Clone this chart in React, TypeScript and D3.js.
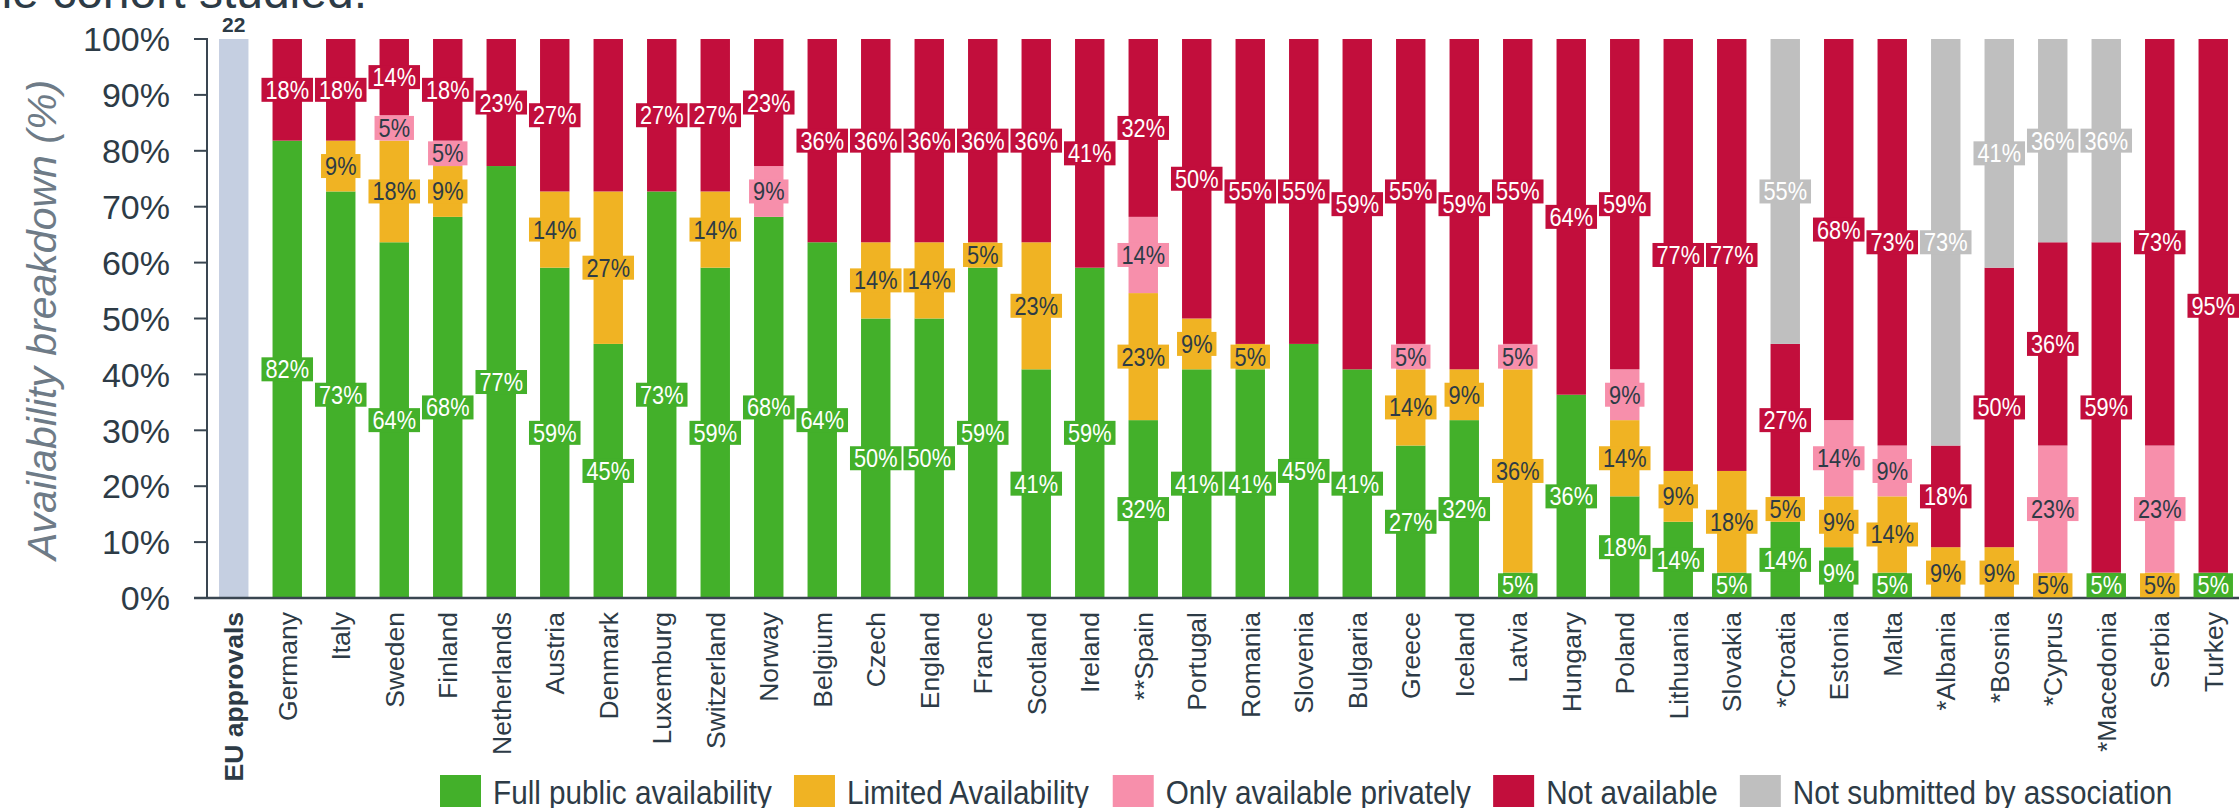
import * as d3 from "d3"
import React from "react"

// counts out of the 22 EU approvals
const euApprovals = 22
const countries = ["Germany", "Italy", "Sweden", "Finland", "Netherlands", "Austria", "Denmark", "Luxemburg", "Switzerland", "Norway", "Belgium", "Czech", "England", "France", "Scotland", "Ireland", "**Spain", "Portugal", "Romania", "Slovenia", "Bulgaria", "Greece", "Iceland", "Latvia", "Hungary", "Poland", "Lithuania", "Slovakia", "*Croatia", "Estonia", "Malta", "*Albania", "*Bosnia", "*Cyprus", "*Macedonia", "Serbia", "Turkey"]
const fullPublic = [18, 16, 14, 15, 17, 13, 10, 16, 13, 15, 14, 11, 11, 13, 9, 13, 7, 9, 9, 10, 9, 6, 7, 1, 8, 4, 3, 1, 3, 2, 1, 0, 0, 0, 1, 0, 1]
const limited = [0, 2, 4, 2, 0, 3, 6, 0, 3, 0, 0, 3, 3, 1, 5, 0, 5, 2, 1, 0, 0, 3, 2, 8, 0, 3, 2, 4, 1, 2, 3, 2, 2, 1, 0, 1, 0]
const privately = [0, 0, 1, 1, 0, 0, 0, 0, 0, 2, 0, 0, 0, 0, 0, 0, 3, 0, 0, 0, 0, 1, 0, 1, 0, 2, 0, 0, 0, 3, 2, 0, 0, 5, 0, 5, 0]
const notAvailable = [4, 4, 3, 4, 5, 6, 6, 6, 6, 5, 8, 8, 8, 8, 8, 9, 7, 11, 12, 12, 13, 12, 13, 12, 14, 13, 17, 17, 6, 15, 16, 4, 11, 8, 13, 16, 21]
const notSubmitted = [0, 0, 0, 0, 0, 0, 0, 0, 0, 0, 0, 0, 0, 0, 0, 0, 0, 0, 0, 0, 0, 0, 0, 0, 0, 0, 0, 0, 12, 0, 0, 16, 9, 8, 8, 0, 0]
const seriesKeys = ["full", "limited", "private", "notAvailable", "notSubmitted"]
const seriesNames = ["Full public availability", "Limited Availability", "Only available privately", "Not available", "Not submitted by association"]
const hiddenLabels = ["Denmark|notAvailable"]

const colors = { full: "#43b02a", limited: "#f0b323", private: "#f78fab", notAvailable: "#c20e3c", notSubmitted: "#bfbfbf" }
const darkText = { limited: true, private: true }
const ink = "#2d3b46"
const font = "'Liberation Sans', Arial, sans-serif"

const W = 2239
const H = 808
const squeeze = 0.87 // the original's text is slightly condensed
const legendSqueeze = 0.9

const ctx = document.createElement("canvas").getContext("2d")
const measure = (s, f) => {
  ctx.font = f
  return ctx.measureText(s).width
}

export default function App() {
  const rows = countries.map((c, i) => ({
    country: c,
    full: fullPublic[i],
    limited: limited[i],
    private: privately[i],
    notAvailable: notAvailable[i],
    notSubmitted: notSubmitted[i],
  }))
  const stacked = d3.stack().keys(seriesKeys)(rows)

  const xScale = d3.scaleBand().domain(["EU approvals", ...countries]).range([207, 2240]).paddingInner(0.45).paddingOuter(0.225)
  const yScale = d3.scaleLinear().domain([0, euApprovals]).range([598, 39])
  const pct = d3.scaleLinear().domain([0, 1]).range([598, 39])
  const bw = xScale.bandwidth()

  const labelFont = `25px ${font}`
  const legendFont = `33px ${font}`
  let lx = 440
  const legendItems = seriesKeys.map((k, i) => {
    const item = { key: k, name: seriesNames[i], x: lx }
    lx += 41 + 12 + measure(seriesNames[i], legendFont) * legendSqueeze + 22
    return item
  })

  return (
    <div style={{ position: "absolute", left: 0, top: 0 }}>
      <svg width={W} height={H} style={{ display: "block", fontFamily: font }}>
        <rect width={W} height={H} fill="#fff" />
        <text x={367} y={8} textAnchor="end" fontSize={48} fill={ink}>the cohort studied.</text>

        {/* EU approvals reference bar */}
        <rect x={xScale("EU approvals")} y={yScale(euApprovals)} width={bw} height={yScale(0) - yScale(euApprovals)} fill="#c5cfe1" />
        <text x={xScale("EU approvals") + bw / 2} y={32} textAnchor="middle" fontSize={21} fontWeight="bold" fill={ink}>{euApprovals}</text>

        {stacked.map((layer) => (
          <g key={layer.key} fill={colors[layer.key]}>
            {layer.map((d) => d[1] - d[0] > 0 && (
              <rect key={d.data.country} x={xScale(d.data.country)} y={yScale(d[1])} width={bw} height={yScale(d[0]) - yScale(d[1])} />
            ))}
          </g>
        ))}

        {/* axes */}
        <line x1={207} x2={207} y1={pct(1) - 1} y2={pct(0)} stroke="#3a4651" strokeWidth={2} />
        <line x1={194} x2={W} y1={pct(0)} y2={pct(0)} stroke="#3a4651" strokeWidth={2.5} />
        {pct.ticks(10).map((t) => (
          <g key={t} transform={`translate(0,${pct(t)})`}>
            <line x1={194} x2={207} stroke="#3a4651" strokeWidth={2} />
            <text x={170} dy="0.36em" textAnchor="end" fontSize={34} fill={ink}>{d3.format(".0%")(t)}</text>
          </g>
        ))}
        <text transform={`translate(42,320) rotate(-90)`} dy="0.35em" textAnchor="middle" fontSize={41} fontStyle="italic" fill="#6e7b87">Availability breakdown (%)</text>

        {/* value labels */}
        {stacked.map((layer) => (
          <g key={layer.key}>
            {layer.map((d) => {
              const n = d[1] - d[0]
              if (n <= 0 || hiddenLabels.includes(`${d.data.country}|${layer.key}`)) return null
              const label = `${Math.round((n / euApprovals) * 100)}%`
              const cx = xScale(d.data.country) + bw / 2
              const cy = (yScale(d[0]) + yScale(d[1])) / 2
              const w = measure(label, labelFont) * squeeze + 8
              return (
                <g key={d.data.country} transform={`translate(${cx},${cy})`}>
                  <rect x={-w / 2} y={-12} width={w} height={24} fill={colors[layer.key]} />
                  <text transform={`scale(${squeeze},1)`} dy="0.36em" textAnchor="middle" fontSize={25} fill={darkText[layer.key] ? ink : "#fff"}>{label}</text>
                </g>
              )
            })}
          </g>
        ))}

        {/* category labels */}
        {xScale.domain().map((c) => (
          <text key={c} transform={`translate(${xScale(c) + bw / 2},612) rotate(-90)`} dy="0.35em" textAnchor="end" fontSize={26.5} fontWeight={c === "EU approvals" ? "bold" : "normal"} fill={ink}>{c}</text>
        ))}

        {/* legend */}
        {legendItems.map((it) => (
          <g key={it.key}>
            <rect x={it.x} y={775} width={41} height={32} fill={colors[it.key]} />
            <text transform={`translate(${it.x + 53},804) scale(${legendSqueeze},1)`} fontSize={33} fill={ink}>{it.name}</text>
          </g>
        ))}
      </svg>
    </div>
  )
}
